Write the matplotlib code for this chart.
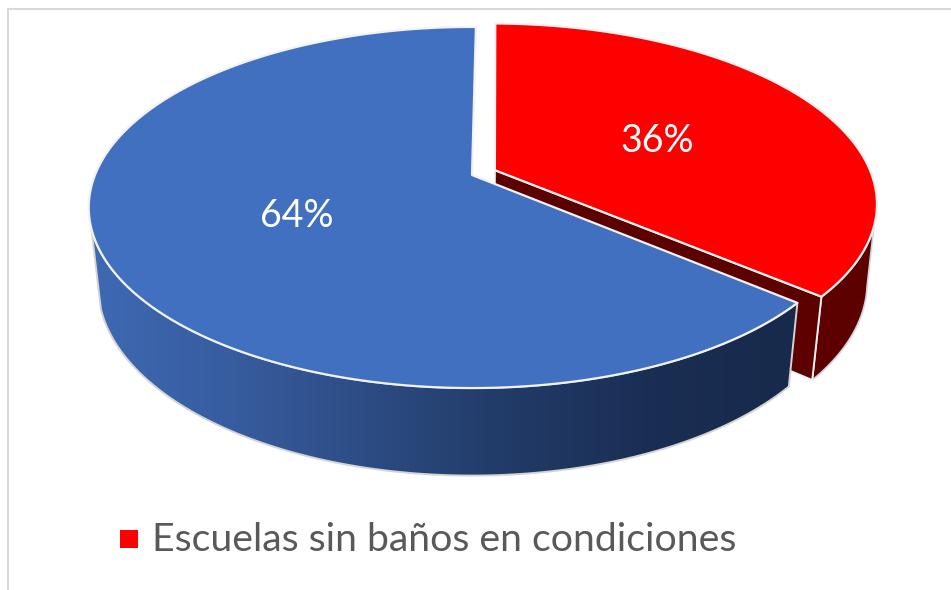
import matplotlib
matplotlib.use('Agg')
import matplotlib.pyplot as plt
import matplotlib.colors as mcolors
from matplotlib.patches import Polygon, Rectangle
import numpy as np

# ── Data ──────────────────────────────────────────────────────────────────────
slice_values = [64, 36]
slice_labels = ['64%', '36%']
legend_label = 'Escuelas sin baños en condiciones'

# ── Look ──────────────────────────────────────────────────────────────────────
BLUE, RED, DARK_RED = '#4270c0', '#ff0000', '#5c0000'
GRADIENT = ['#3e69b3', '#375c9f', '#2c4b82', '#213a66', '#1a2e53', '#172a4c']
RIM, HALO, FRAME, TEXT = '#f2f2f2', '#d4d4d4', '#d9d9d9', '#595959'
FONT = ['Lato', 'DejaVu Sans']

# projection of the pie (pixels), fitted to the reference
CX, CY = 472, 175
R, A, B = 377, 174.7, 79      # radius, vertical squash, wall height
K, M = 0.18, 0.024            # perspective: tilt and wall shrink
EXPLODE = 0.067
START = 89.3                  # 12 o'clock, rotated a little


def project(u, v, h=0.0):
    w = 1 + K * v + M * h
    return CX + R * u / w, CY + (B * h - A * v) / w


def arc(t0, t1, h=0.0, off=(0, 0), n=300):
    t = np.radians(np.linspace(t0, t1, n))
    x, y = project(np.cos(t) + off[0], np.sin(t) + off[1], h)
    return np.column_stack([x, y])


def pt(u, v, h=0.0):
    return np.array([project(u, v, h)])


# slice angles, clockwise from 12 o'clock starting with the red slice
red_end = START - 360 * slice_values[1] / sum(slice_values)
blue_end = START + 360 * slice_values[0] / sum(slice_values)
mid = np.radians((START + red_end) / 2)
off = (EXPLODE * np.cos(mid), EXPLODE * np.sin(mid))

fig = plt.figure(figsize=(9.51, 5.90), dpi=100)
ax = fig.add_axes([0, 0, 1, 1])
ax.set_xlim(0, 951)
ax.set_ylim(590, 0)
ax.axis('off')

# chart frame
ax.plot([8, 8], [590, 9], color=FRAME, lw=1.5)
ax.plot([8, 951], [9, 9], color=FRAME, lw=1.5)

# ── Red slice ─────────────────────────────────────────────────────────────────
t_end = np.radians(red_end)
red_corner = (np.cos(t_end) + off[0], np.sin(t_end) + off[1])
red_tip = off

# silhouette runs straight from the rim down to the lower arc
red_wall = np.vstack([arc(-18, red_end, 0, off), arc(red_end, -12, 1, off)])
ax.add_patch(Polygon(red_wall, fc=DARK_RED, ec=HALO, lw=1.2, joinstyle='round'))
cut = np.vstack([pt(*red_tip), pt(*red_corner), pt(*red_corner, 1), pt(*red_tip, 1)])
ax.add_patch(Polygon(cut, fc=DARK_RED, ec=RIM, lw=1.4, joinstyle='round'))
top = np.vstack([pt(*red_tip), arc(START, red_end, 0, off)])
ax.add_patch(Polygon(top, fc=RED, ec=RIM, lw=1.6, joinstyle='round'))

# ── Blue slice ────────────────────────────────────────────────────────────────
wall_start = 197
blue_wall = np.vstack([arc(wall_start, blue_end, 0), arc(blue_end, wall_start, 1)])
wall_patch = Polygon(blue_wall, fc='none', ec=HALO, lw=1.4, joinstyle='round', zorder=3)
ax.add_patch(wall_patch)
cmap = mcolors.LinearSegmentedColormap.from_list('wall', GRADIENT)
grad = ax.imshow(np.linspace(0, 1, 256)[None, :], cmap=cmap, aspect='auto',
                 extent=(blue_wall[:, 0].min(), blue_wall[:, 0].max(),
                         blue_wall[:, 1].max(), blue_wall[:, 1].min()), zorder=2)
grad.set_clip_path(wall_patch)
ax.set_xlim(0, 951)
ax.set_ylim(590, 0)

top = np.vstack([pt(0, 0), arc(START, blue_end)])
ax.add_patch(Polygon(top, fc=BLUE, ec=RIM, lw=1.6, joinstyle='round', zorder=4))

# ── Labels and legend ─────────────────────────────────────────────────────────
ax.text(297, 216, slice_labels[0], color='white', fontsize=27, family=FONT,
        ha='center', va='center', zorder=5)
ax.text(657, 141, slice_labels[1], color='white', fontsize=27, family=FONT,
        ha='center', va='center', zorder=5)
ax.add_patch(Rectangle((120, 530), 18, 18, fc=RED, ec='none'))
ax.text(152, 540, legend_label, color=TEXT, fontsize=28.25, family=FONT,
        ha='left', va='center')

fig.savefig('out.png', dpi=100)
